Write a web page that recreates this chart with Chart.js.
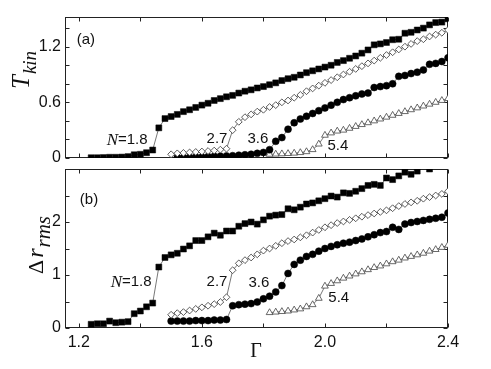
<!DOCTYPE html>
<html><head><meta charset="utf-8">
<script src="https://cdn.jsdelivr.net/npm/chart.js@4.4.0/dist/chart.umd.min.js"></script>
<style>
html,body{margin:0;padding:0;background:#fff;}
#wrap{position:relative;width:491px;height:369px;overflow:hidden;}
canvas{position:absolute;left:0;top:0;}
</style></head><body>
<div id="wrap"><canvas id="ca" width="491" height="369"></canvas><canvas id="cb" width="491" height="369"></canvas></div>
<script>
// ---- Γ grids (x values) ----
const gammaFrom124 = [1.24,1.26,1.28,1.30,1.32,1.34,1.36,1.38,1.40,1.42,1.44,1.46,1.48,1.50,1.52,1.54,1.56,1.58,1.60,1.62,1.64,1.66,1.68,1.70,1.72,1.74,1.76,1.78,1.80,1.82,1.84,1.86,1.88,1.90,1.92,1.94,1.96,1.98,2.00,2.02,2.04,2.06,2.08,2.10,2.12,2.14,2.16,2.18,2.20,2.22,2.24,2.26,2.28,2.30,2.32,2.34,2.36,2.38,2.40];
const gammaFrom150 = [1.50,1.52,1.54,1.56,1.58,1.60,1.62,1.64,1.66,1.68,1.70,1.72,1.74,1.76,1.78,1.80,1.82,1.84,1.86,1.88,1.90,1.92,1.94,1.96,1.98,2.00,2.02,2.04,2.06,2.08,2.10,2.12,2.14,2.16,2.18,2.20,2.22,2.24,2.26,2.28,2.30,2.32,2.34,2.36,2.38,2.40];
const gammaFrom152 = [1.52,1.54,1.56,1.58,1.60,1.62,1.64,1.66,1.68,1.70,1.72,1.74,1.76,1.78,1.80,1.82,1.84,1.86,1.88,1.90,1.92,1.94,1.96,1.98,2.00,2.02,2.04,2.06,2.08,2.10,2.12,2.14,2.16,2.18,2.20,2.22,2.24,2.26,2.28,2.30,2.32,2.34,2.36,2.38,2.40];
const gammaFrom182 = [1.82,1.84,1.86,1.88,1.90,1.92,1.94,1.96,1.98,2.00,2.02,2.04,2.06,2.08,2.10,2.12,2.14,2.16,2.18,2.20,2.22,2.24,2.26,2.28,2.30,2.32,2.34,2.36,2.38,2.40];

// ---- panel (a): T_kin ----
const tkinN18 = [0.003,0.003,0.005,0.008,0.008,0.01,0.015,0.035,0.04,0.057,0.086,0.325,0.425,0.447,0.47,0.50,0.52,0.545,0.57,0.59,0.62,0.64,0.66,0.675,0.70,0.72,0.735,0.755,0.77,0.79,0.81,0.835,0.855,0.87,0.895,0.92,0.94,0.96,0.98,1.00,1.03,1.05,1.075,1.10,1.13,1.165,1.22,1.23,1.245,1.275,1.28,1.345,1.355,1.38,1.40,1.435,1.46,1.465,1.50];
const tkinN27 = [0.04,0.05,0.055,0.06,0.065,0.07,0.075,0.08,0.09,0.10,0.30,0.39,0.44,0.47,0.50,0.52,0.55,0.57,0.60,0.62,0.65,0.68,0.72,0.75,0.78,0.81,0.84,0.87,0.90,0.93,0.96,0.99,1.02,1.05,1.08,1.11,1.14,1.17,1.20,1.23,1.26,1.28,1.31,1.33,1.35,1.38];
const tkinN36 = [0.005,0.005,0.008,0.01,0.012,0.015,0.018,0.02,0.022,0.025,0.03,0.035,0.04,0.05,0.06,0.09,0.18,0.22,0.31,0.38,0.42,0.45,0.48,0.51,0.54,0.57,0.60,0.63,0.65,0.67,0.69,0.70,0.76,0.77,0.78,0.80,0.88,0.89,0.91,0.925,0.95,1.01,1.02,1.04,1.08];
const tkinN54 = [0.04,0.042,0.045,0.048,0.052,0.058,0.068,0.09,0.15,0.245,0.27,0.29,0.30,0.32,0.34,0.36,0.38,0.40,0.42,0.44,0.46,0.48,0.50,0.52,0.54,0.56,0.58,0.60,0.62,0.64];

// ---- panel (b): Δr_rms ----
const drmsN18 = [0.07,0.08,0.08,0.13,0.10,0.11,0.12,0.27,0.32,0.40,0.47,1.15,1.33,1.38,1.41,1.49,1.55,1.65,1.65,1.72,1.79,1.75,1.83,1.83,1.92,1.97,2.00,1.96,2.04,2.11,2.13,2.14,2.25,2.23,2.28,2.34,2.36,2.40,2.44,2.49,2.47,2.55,2.54,2.58,2.63,2.69,2.71,2.69,2.83,2.80,2.87,2.94,2.90,2.96,null,3.00];
const drmsN27 = [0.25,0.28,0.30,0.33,0.36,0.39,0.42,0.45,0.49,0.58,1.09,1.22,1.28,1.33,1.39,1.46,1.50,1.55,1.60,1.64,1.67,1.71,1.75,1.80,1.85,1.90,1.94,1.98,2.01,2.04,2.07,2.10,2.13,2.16,2.19,2.22,2.26,2.30,2.34,2.37,2.40,2.44,2.47,2.50,2.53,2.58];
const drmsN36 = [0.13,0.13,0.13,0.13,0.14,0.14,0.14,0.15,0.15,0.16,0.42,0.44,0.45,0.46,0.49,0.55,0.60,0.68,0.80,1.03,1.20,1.28,1.35,1.39,1.45,1.50,1.54,1.57,1.60,1.62,1.65,1.68,1.72,1.76,1.80,1.82,1.90,1.86,1.96,1.99,2.01,2.03,2.05,2.07,2.09,2.17];
const drmsN54 = [0.29,0.30,0.31,0.32,0.34,0.36,0.40,0.44,0.56,0.79,0.84,0.89,0.94,0.98,1.02,1.06,1.10,1.14,1.17,1.21,1.25,1.28,1.32,1.35,1.38,1.41,1.45,1.48,1.52,1.56];

// ---- ticks ----
const xTicks = [1.2,1.4,1.6,1.8,2.0,2.2,2.4];
const xTickLabels = [1.2,1.6,2.0,2.4];
const yTicksA = [0,0.2,0.4,0.6,0.8,1.0,1.2,1.4];
const yTickLabelsA = [0,0.6,1.2];
const yTicksB = [0,0.5,1,1.5,2,2.5,3];
const yTickLabelsB = [0,1,2];

// ---- in-panel labels (text, Γ, value) ----
const notesTextA = ['(a)','N=1.8','2.7','3.6','5.4'];
const notesGammaA = [1.223,1.357,1.649,1.782,2.042];
const notesValueA = [1.272,0.194,0.205,0.205,0.129];
const notesTextB = ['(b)','N=1.8','2.7','3.6','5.4'];
const notesGammaB = [1.233,1.370,1.649,1.785,2.045];
const notesValueB = [2.42,0.87,0.87,0.85,0.57];

function pts(g, v){ const out=[]; for(let i=0;i<v.length;i++){ out.push({x:g[i], y:v[i]}); } return out; }

const markers = {
  sq:{pointStyle:'rect', pointRadius:4.2, pointBackgroundColor:'#000', pointBorderColor:'#000', pointBorderWidth:0.5},
  di:{pointStyle:'rectRot', pointRadius:3.4, pointBackgroundColor:'#fff', pointBorderColor:'#333', pointBorderWidth:0.8},
  ci:{pointStyle:'circle', pointRadius:3.5, pointBackgroundColor:'#000', pointBorderColor:'#000', pointBorderWidth:0.5},
  tr:{pointStyle:'triangle', pointRadius:3.9, pointBackgroundColor:'#fff', pointBorderColor:'#444', pointBorderWidth:0.8}
};
function ds(data, m){
  return Object.assign({data, showLine:true, borderColor:'#555', borderWidth:0.8, tension:0, spanGaps:false, pointHoverRadius:0}, markers[m]);
}

function drawNote(ctx, text, cx, cy){
  ctx.fillStyle = '#111';
  ctx.textBaseline = 'middle';
  ctx.textAlign = 'left';
  if (text.indexOf('N=') === 0){
    ctx.font = 'italic 17px "Liberation Serif"';
    const w1 = ctx.measureText('N').width;
    ctx.font = '15px "Liberation Sans"';
    const rest = text.slice(1);
    const w2 = ctx.measureText(rest).width;
    const x0 = cx - (w1 + w2)/2;
    ctx.font = 'italic 17px "Liberation Serif"';
    ctx.fillText('N', x0, cy + 0.5);
    ctx.font = '15px "Liberation Sans"';
    ctx.fillText(rest, x0 + w1, cy);
  } else {
    ctx.font = '15px "Liberation Sans"';
    ctx.textAlign = 'center';
    ctx.fillText(text, cx, cy);
  }
}

const framePlugin = {
  id:'frame',
  beforeDatasetsDraw(chart, args, opts){
    const {ctx, chartArea:a, scales} = chart;
    ctx.save();
    ctx.strokeStyle = '#222';
    ctx.lineWidth = 1;
    const L = Math.round(a.left)+0.5, R = Math.round(a.right)-0.5, T = Math.round(a.top)+0.5, B = Math.round(a.bottom)-0.5;
    ctx.strokeRect(L, T, R-L, B-T);
    ctx.beginPath();
    const tl = 4;
    xTicks.forEach(v => {
      const px = Math.round(scales.x.getPixelForValue(v)) + 0.5;
      ctx.moveTo(px, B); ctx.lineTo(px, B - tl);
      ctx.moveTo(px, T); ctx.lineTo(px, T + tl);
    });
    opts.yTicks.forEach(v => {
      const py = Math.round(scales.y.getPixelForValue(v)) + 0.5;
      ctx.moveTo(L, py); ctx.lineTo(L + tl, py);
      ctx.moveTo(R, py); ctx.lineTo(R - tl, py);
    });
    ctx.stroke();
    ctx.restore();
  },
  afterDraw(chart, args, opts){
    const {ctx, scales} = chart;
    ctx.save();
    opts.notesText.forEach((t, i) => {
      drawNote(ctx, t, scales.x.getPixelForValue(opts.notesGamma[i]), scales.y.getPixelForValue(opts.notesValue[i]));
    });
    if (opts.titles) opts.titles(ctx);
    ctx.restore();
  }
};

function drawRotated(ctx, pieces, baseX, startY){
  ctx.save();
  ctx.translate(baseX, startY);
  ctx.rotate(-Math.PI/2);
  ctx.textAlign = 'left';
  ctx.textBaseline = 'alphabetic';
  ctx.fillStyle = '#111';
  let x = 0;
  pieces.forEach(p => {
    ctx.font = p.font;
    x += (p.gap || 0);
    ctx.fillText(p.t, x, p.dy || 0);
    x += ctx.measureText(p.t).width;
  });
  ctx.restore();
}

function baseOptions(yMax, yTicks, yLabels, padTop, padBottom, showX){
  return {
    responsive:false, animation:false, devicePixelRatio:1,
    layout:{padding:{left:0, right:43, top:padTop, bottom:padBottom}},
    plugins:{legend:{display:false}, tooltip:{enabled:false}},
    events:[],
    scales:{
      x:{type:'linear', min:1.155, max:2.4, display:showX,
         grid:{display:false, drawTicks:false}, border:{display:false},
         afterBuildTicks:s => { s.ticks = xTicks.map(v => ({value:v})); },
         afterFit:s => { if (showX) s.height = 41; },
         ticks:{padding:5, color:'#111', font:{family:'Liberation Sans', size:16}, maxRotation:0, autoSkip:false,
           callback:v => xTickLabels.includes(v) ? v.toFixed(1) : ''}},
      y:{type:'linear', min:0, max:yMax,
         grid:{display:false, drawTicks:false}, border:{display:false},
         afterBuildTicks:s => { s.ticks = yTicks.map(v => ({value:v})); },
         afterFit:s => { s.width = 65; },
         ticks:{padding:4, color:'#111', font:{family:'Liberation Sans', size:16}, autoSkip:false,
           callback:v => yLabels.includes(v) ? (v === 0 ? '0' : (Number.isInteger(v) ? String(v) : v.toFixed(1))) : ''}}
    }
  };
}

const optA = baseOptions(1.52, yTicksA, yTickLabelsA, 17, 211, false);
optA.plugins.frame = {yTicks:yTicksA, notesText:notesTextA, notesGamma:notesGammaA, notesValue:notesValueA,
  titles: ctx => {
    drawRotated(ctx, [
      {t:'T', font:'italic 25px "Liberation Serif"'},
      {t:'kin', font:'italic 19px "Liberation Serif"', dy:7, gap:1}
    ], 29, 89);
  }};
new Chart(document.getElementById('ca'), {
  type:'scatter',
  data:{datasets:[
    ds(pts(gammaFrom124, tkinN18), 'sq'),
    ds(pts(gammaFrom150, tkinN27), 'di'),
    ds(pts(gammaFrom152, tkinN36), 'ci'),
    ds(pts(gammaFrom182, tkinN54), 'tr')
  ]},
  options:optA,
  plugins:[framePlugin]
});

const optB = baseOptions(3.0, yTicksB, yTickLabelsB, 169, 0, true);
optB.plugins.frame = {yTicks:yTicksB, notesText:notesTextB, notesGamma:notesGammaB, notesValue:notesValueB,
  titles: ctx => {
    drawRotated(ctx, [
      {t:'\u0394', font:'22px "Liberation Serif"'},
      {t:'r', font:'italic 24px "Liberation Serif"', gap:2},
      {t:'rms', font:'italic 21px "Liberation Serif"', dy:7, gap:1}
    ], 43, 274);
    ctx.font = '20px "Liberation Serif"';
    ctx.fillStyle = '#111';
    ctx.textAlign = 'center';
    ctx.textBaseline = 'alphabetic';
    ctx.fillText('\u0393', 256, 357);
  }};
new Chart(document.getElementById('cb'), {
  type:'scatter',
  data:{datasets:[
    ds(pts(gammaFrom124, drmsN18), 'sq'),
    ds(pts(gammaFrom150, drmsN27), 'di'),
    ds(pts(gammaFrom150, drmsN36), 'ci'),
    ds(pts(gammaFrom182, drmsN54), 'tr')
  ]},
  options:optB,
  plugins:[framePlugin]
});
</script>
</body></html>
